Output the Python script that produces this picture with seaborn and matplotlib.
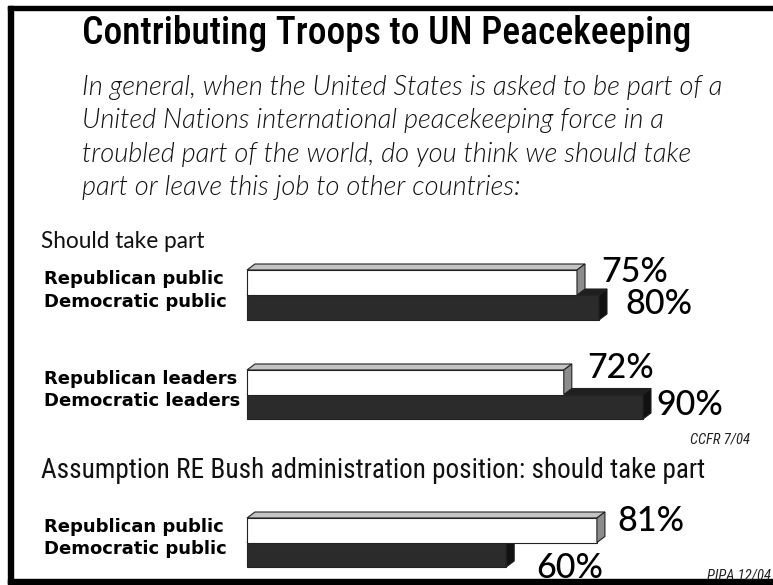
import numpy as np
import pandas as pd
import matplotlib
matplotlib.use("Agg")
import matplotlib.pyplot as plt
import matplotlib.transforms as mtransforms
from matplotlib.patches import Polygon, Rectangle
import seaborn as sns

# ---- data ----
group1_labels = ["Republican public", "Democratic public"]
group1_values = [75, 80]
group2_labels = ["Republican leaders", "Democratic leaders"]
group2_values = [72, 90]
group3_labels = ["Republican public", "Democratic public"]
group3_values = [81, 60]

title = "Contributing Troops to UN Peacekeeping"
question = ("In general, when the United States is asked to be part of a\n"
            "United Nations international peacekeeping force in a\n"
            "troubled part of the world, do you think we should take\n"
            "part or leave this job to other countries:")
section1 = "Should take part"
section2 = "Assumption RE Bush administration position: should take part"
source1 = "CCFR 7/04"
source2 = "PIPA 12/04"

W, H = 773, 585
sns.set_theme(style="white")
plt.rcParams["font.family"] = ["Lato", "DejaVu Sans"]

fig = plt.figure(figsize=(W / 100, H / 100), dpi=100)
fig.patch.set_facecolor("white")


def fx(x):
    return x / W


def fy(y):
    return 1 - y / H


# frame lines (left, top, bottom)
fig.patches.append(Rectangle((fx(8), fy(584)), 5 / W, 578 / H,
                             transform=fig.transFigure, color="black", zorder=0))
fig.patches.append(Rectangle((fx(8), fy(10)), 1, 4 / H,
                             transform=fig.transFigure, color="black", zorder=0))
fig.patches.append(Rectangle((fx(8), fy(584)), 1, 5 / H,
                             transform=fig.transFigure, color="black", zorder=0))

narrow = ["Roboto Condensed", "Liberation Sans Narrow", "DejaVu Sans"]
texts_to_fit = []

t_title = fig.text(0.5, fy(33), title, ha="center", va="center", fontsize=26,
                   fontweight="medium", family=narrow, color="black")
texts_to_fit.append((t_title, 610))
t_q = fig.text(fx(82), fy(75), question, ha="left", va="top", fontsize=18,
               style="italic", fontweight=300, linespacing=1.42, color="#111111")
texts_to_fit.append((t_q, 640))
t_s1 = fig.text(fx(41), fy(241), section1, ha="left", va="center", fontsize=15,
                fontweight="normal", color="#111111")
texts_to_fit.append((t_s1, 164))
t_s2 = fig.text(fx(41), fy(470), section2, ha="left", va="center", fontsize=15,
                family=narrow, color="#111111")
texts_to_fit.append((t_s2, 667))
fig.text(fx(750), fy(439), source1, ha="right", va="center", fontsize=10.5,
         style="italic", family=narrow, color="#222222")
fig.text(fx(771), fy(575), source2, ha="right", va="center", fontsize=10.5,
         style="italic", family=narrow, color="#222222")

DX, DY = 8, 6
WHITE_FACE, WHITE_TOP, WHITE_SIDE = "#ffffff", "#c4c4c4", "#8c8c8c"
DARK_FACE, DARK_TOP, DARK_SIDE = "#2b2b2b", "#1f1f1f", "#111111"


def draw_group(labels, values, top_px, bottom_px, px_per_pct, label_offsets):
    ax = fig.add_axes([fx(247), fy(bottom_px), px_per_pct * 100 / W,
                       (bottom_px - top_px) / H])
    df = pd.DataFrame({"party": labels, "value": values})
    sns.barplot(data=df, x="value", y="party", orient="h", width=1.0,
                ax=ax, color="white", saturation=1)
    ax.set_xlim(0, 100)
    ax.set_ylim(1.5, -0.5)
    ax.axis("off")
    ident = mtransforms.IdentityTransform()
    bars = list(ax.patches)
    styles = [(WHITE_FACE, WHITE_TOP, WHITE_SIDE, 3),
              (DARK_FACE, DARK_TOP, DARK_SIDE, 1)]
    for bar, (face, topc, sidec, z), val, (ox, oy) in zip(bars, styles, values, label_offsets):
        bar.set_facecolor(face)
        bar.set_edgecolor("#222222")
        bar.set_linewidth(0.8)
        bar.set_zorder(z + 0.5)
        bar.set_clip_on(False)
        x0, y0 = bar.get_x(), bar.get_y()
        x1, y1 = x0 + bar.get_width(), y0 + bar.get_height()
        (px0, pyb), (px1, pyt) = ax.transData.transform([(x0, y1), (x1, y0)])
        top = Polygon([(px0, pyt), (px1, pyt), (px1 + DX, pyt + DY), (px0 + DX, pyt + DY)],
                      closed=True, transform=ident, facecolor=topc,
                      edgecolor="#222222", lw=0.8, zorder=z, clip_on=False)
        side = Polygon([(px1, pyb), (px1, pyt), (px1 + DX, pyt + DY), (px1 + DX, pyb + DY)],
                       closed=True, transform=ident, facecolor=sidec,
                       edgecolor="#222222", lw=0.8, zorder=z + 0.6, clip_on=False)
        ax.add_patch(top)
        ax.add_patch(side)
        ax.text(x1, (y0 + y1) / 2, f"{val}%", ha="left", va="center",
                fontsize=24.5, fontweight="medium", color="black", zorder=6, clip_on=False,
                transform=ax.transData + mtransforms.ScaledTranslation(
                    ox / 100, -oy / 100, fig.dpi_scale_trans))
    mid = (top_px + bottom_px) / 2
    fig.text(fx(44), fy(mid - 16), labels[0], ha="left", va="center",
             fontsize=13, fontweight="bold", family="DejaVu Sans", color="black")
    fig.text(fx(44), fy(mid + 7), labels[1], ha="left", va="center",
             fontsize=13, fontweight="bold", family="DejaVu Sans", color="black")
    return ax


draw_group(group1_labels, group1_values, 270, 320, 4.4, [(24, -10), (26, -4)])
draw_group(group2_labels, group2_values, 370, 419, 4.4, [(23, -14), (13, -2)])
draw_group(group3_labels, group3_values, 518, 567, 4.32, [(20, -9), (30, 13)])

# scale the long texts so their widths match the layout
fig.canvas.draw()
renderer = fig.canvas.get_renderer()
for t, target in texts_to_fit:
    w = t.get_window_extent(renderer).width
    t.set_fontsize(t.get_fontsize() * target / w)

fig.savefig("out.png", dpi=100, facecolor="white")
